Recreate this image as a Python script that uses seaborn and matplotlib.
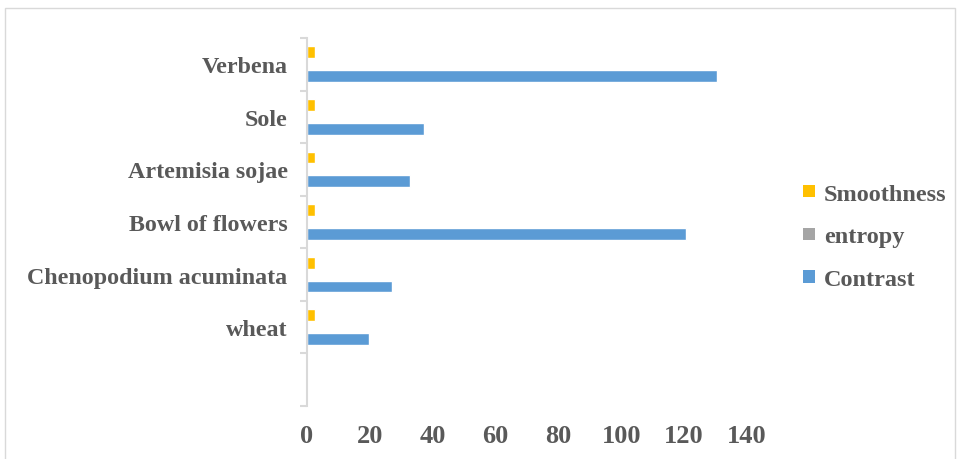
import matplotlib
matplotlib.use("Agg")
import matplotlib.pyplot as plt
import seaborn as sns
import pandas as pd
import numpy as np
from matplotlib.patches import Patch, Rectangle

categories = ["Verbena", "Sole", "Artemisia sojae", "Bowl of flowers",
              "Chenopodium acuminata", "wheat", ""]
smoothness = [2.4, 2.7, 2.6, 2.4, 2.6, 2.6, np.nan]
entropy = [0.05, 0.05, 0.05, 0.05, 0.05, 0.05, np.nan]
contrast = [130.6, 37.1, 32.9, 120.6, 27.1, 19.7, np.nan]
series = ["Smoothness", "entropy", "Contrast"]
colors = ["#FFC000", "#A5A5A5", "#5B9BD5"]
xticks = [0, 20, 40, 60, 80, 100, 120, 140]

rows = []
for name, vals in zip(series, [smoothness, entropy, contrast]):
    for c, v in zip(categories, vals):
        rows.append({"category": c, "series": name, "value": v})
df = pd.DataFrame(rows)

sns.set_style("white")
plt.rcParams['font.family'] = ['Liberation Serif', 'DejaVu Serif']
plt.rcParams['font.weight'] = 'bold'
txt = "#595959"

fig = plt.figure(figsize=(9.57, 4.6), dpi=100)
ax = fig.add_axes([307/957, 1-407/460, (747-307)/957, (407-39)/460])

sns.barplot(data=df, y="category", x="value", hue="series", order=categories,
            hue_order=series, palette=colors, orient="h", width=0.68, gap=0,
            dodge=True, ax=ax, legend=False, errorbar=None, saturation=1)

ax.set_xlim(0, 140)
ax.set_ylim(6.5, -0.5)
ax.set_xlabel("")
ax.set_ylabel("")
ax.set_xticks(xticks)
ax.set_xticklabels([str(t) for t in xticks], fontsize=19, fontweight='bold', color=txt)
ax.tick_params(axis='x', length=0, pad=13)

ax.set_yticks(np.arange(-0.5, 7, 1))
ax.set_yticklabels([])
ax.set_yticks(np.arange(len(categories)), minor=True)
ax.set_yticklabels(categories, minor=True, fontsize=17.3, fontweight='bold', color=txt)
ax.tick_params(axis='y', which='major', length=5, width=1.5, color="#D9D9D9", left=True, direction='out')
ax.tick_params(axis='y', which='minor', length=0, pad=14)

for s in ["top", "right", "bottom"]:
    ax.spines[s].set_visible(False)
ax.spines["left"].set_color("#D9D9D9")
ax.spines["left"].set_linewidth(1.5)
ax.grid(False)

handles = [Patch(facecolor=c, edgecolor='none') for c in colors]
leg = fig.legend(handles, series, loc='center left',
                 bbox_to_anchor=(803/957, 1-238/460), frameon=False,
                 borderpad=0, borderaxespad=0, handlelength=0.5, handleheight=0.42,
                 handletextpad=0.35, labelspacing=0.9,
                 prop={'family': 'Liberation Serif', 'weight': 'bold', 'size': 17.5})
for t in leg.get_texts():
    t.set_color(txt)

fig.patches.append(Rectangle((5/957, -0.05), 950/957, 1.05-9/460, transform=fig.transFigure,
                             fill=False, edgecolor="#D9D9D9", linewidth=1))

fig.savefig("out.png", dpi=100)
